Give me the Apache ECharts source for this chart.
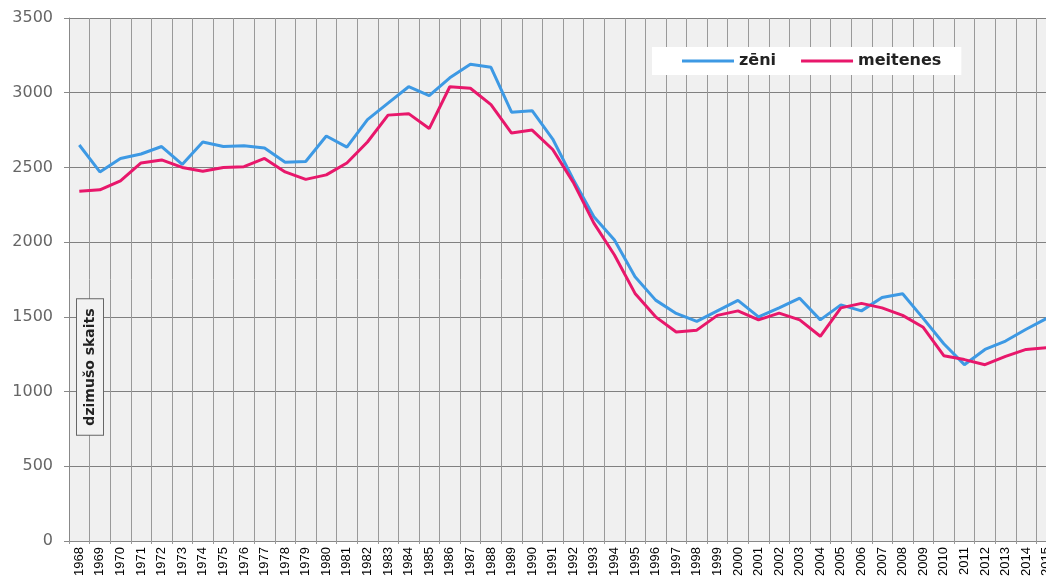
<!DOCTYPE html>
<html>
<head>
<meta charset="utf-8">
<script src="https://cdn.jsdelivr.net/npm/echarts@6/dist/echarts.min.js"></script>
<style>
  body { margin: 0; background: #fff; overflow: hidden; }
  #main { width: 1046px; height: 581px; }
</style>
</head>
<body>
<div id="main"></div>
<script>
// gadi
const years = [
  '1968', '1969', '1970', '1971', '1972', '1973', '1974', '1975', '1976', '1977',
  '1978', '1979', '1980', '1981', '1982', '1983', '1984', '1985', '1986', '1987',
  '1988', '1989', '1990', '1991', '1992', '1993', '1994', '1995', '1996', '1997',
  '1998', '1999', '2000', '2001', '2002', '2003', '2004', '2005', '2006', '2007',
  '2008', '2009', '2010', '2011', '2012', '2013', '2014', '2015'
]

const zeni = [
  2650, 2470, 2560, 2590, 2640, 2520, 2670, 2640, 2645, 2630,
  2535, 2540, 2710, 2636, 2820, 2930, 3040, 2980, 3100, 3190,
  3170, 2870, 2880, 2690, 2420, 2170, 2015, 1768, 1612, 1523,
  1470, 1540, 1610, 1500, 1560, 1625, 1480, 1580, 1540, 1630,
  1655, 1490, 1320, 1180, 1282, 1338, 1417, 1490
]

const meitenes = [
  2340, 2350, 2410, 2530, 2550, 2500, 2475, 2500, 2505, 2560,
  2470, 2420, 2450, 2530, 2670, 2850, 2860, 2760, 3040, 3030,
  2920, 2730, 2750, 2620, 2400, 2127, 1914, 1657, 1500, 1399,
  1411, 1510, 1540, 1480, 1525, 1480, 1370, 1560, 1590, 1560,
  1510, 1430, 1240, 1214, 1180, 1236, 1282, 1293
]

let chart = echarts.init(document.getElementById('main'))

let option = {
  animation: false,
  grid: {
    left: 69,
    top: 18,
    width: 988,
    bottom: 40,
    outerBoundsMode: 'none',
    containLabel: false,
    show: true,
    backgroundColor: '#f0f0f0',
    borderWidth: 0
  },
  legend: {
    data: ['zēni', 'meitenes'],
    left: 652,
    top: 47,
    padding: [6, 20, 6, 30],
    backgroundColor: '#ffffff',
    icon: 'rect',
    itemWidth: 52,
    itemHeight: 3,
    itemGap: 25,
    textStyle: {
      fontFamily: 'DejaVu Sans',
      fontWeight: 'bold',
      fontSize: 16,
      color: '#222'
    }
  },
  xAxis: {
    type: 'category',
    data: years,
    boundaryGap: true,
    axisLine: { lineStyle: { color: '#888' } },
    axisTick: { show: true, length: 3, lineStyle: { color: '#999' } },
    axisLabel: {
      interval: 0,
      rotate: 90,
      margin: 6,
      fontFamily: 'Liberation Sans',
      fontSize: 13,
      color: '#000'
    },
    splitLine: {
      show: true,
      interval: 0,
      lineStyle: { color: '#999', width: 1 }
    }
  },
  yAxis: {
    type: 'value',
    min: 0,
    max: 3500,
    interval: 500,
    axisLine: { show: true, lineStyle: { color: '#888' } },
    axisTick: { show: true, length: 5, lineStyle: { color: '#888' } },
    axisLabel: {
      margin: 16,
      fontFamily: 'DejaVu Sans',
      fontSize: 16,
      color: '#666',
      formatter: v => String(v)
    },
    splitLine: { lineStyle: { color: '#808080', width: 1 } }
  },
  // ass nosaukums kastītē
  graphic: [
    {
      type: 'text',
      x: 90,
      y: 367,
      rotation: Math.PI / 2,
      z: 100,
      style: {
        text: 'dzimušo skaits',
        font: 'bold 14px "DejaVu Sans"',
        fill: '#222',
        align: 'center',
        verticalAlign: 'middle',
        backgroundColor: '#f2f2f2',
        borderColor: '#666',
        borderWidth: 1,
        padding: [6, 9]
      }
    }
  ],
  series: [
    {
      name: 'zēni',
      type: 'line',
      data: zeni,
      symbol: 'none',
      color: '#3d99e4',
      lineStyle: { width: 3 }
    },
    {
      name: 'meitenes',
      type: 'line',
      data: meitenes,
      symbol: 'none',
      color: '#e8176b',
      lineStyle: { width: 3 }
    }
  ]
}

chart.setOption(option)
</script>
</body>
</html>
